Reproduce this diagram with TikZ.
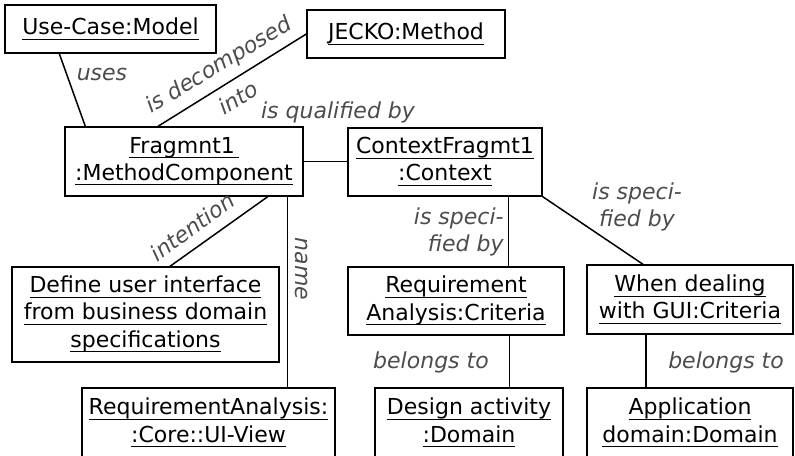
\documentclass[tikz,border=0pt]{standalone}
\usepackage{fontspec}
\setmainfont{DejaVu Sans}
\usetikzlibrary{positioning,calc}
\newcommand{\ulin}[1]{\underline{\raisebox{0pt}[\height][0.9pt]{#1}}}
\tikzset{
  obj/.style={draw,line width=0.7pt,inner sep=0pt,align=center,font=\fontsize{11}{13.6}\selectfont},
  rol/.style={font=\fontsize{11}{13.6}\selectfont\itshape,text=black!70,inner sep=0pt},
  vazba/.style={line width=0.75pt},
}
\begin{document}
\begin{tikzpicture}[x=0.5pt,y=-0.5pt]
  \useasboundingbox (0,0) rectangle (795,455);
  \clip (0,0) rectangle (795,455);
  \node[obj,minimum width=105.5pt,minimum height=24pt] (ucm) at (110.5,29) {\ulin{Use-Case:Model}};
  \node[obj,minimum width=99pt,minimum height=24pt] (jm) at (406,34) {\ulin{JECKO:Method}};
  \node[obj,minimum width=119pt,minimum height=34.5pt] (frag) at (184,161.5) {\ulin{Fragmnt1\,}\\\ulin{:MethodComponent}};
  \node[obj,minimum width=97pt,minimum height=34pt] (ctx) at (445,162) {\ulin{ContextFragmt1}\\\ulin{:Context}};
  \node[obj,minimum width=133.5pt,minimum height=47.5pt] (def) at (145.5,314.5) {\ulin{Define user interface}\\\ulin{from business domain}\\\ulin{specifications}};
  \node[obj,minimum width=108pt,minimum height=34pt] (rc) at (456,301) {\ulin{Requirement}\\\ulin{Analysis:Criteria}};
  \node[obj,minimum width=103pt,minimum height=34.5pt] (gui) at (690,299.5) {\ulin{When dealing}\\\ulin{with GUI:Criteria}};
  \node[obj,minimum width=126.5pt,minimum height=35pt] (uiv) at (208.5,423) {\ulin{RequirementAnalysis:}\\\ulin{:Core::UI-View}};
  \node[obj,minimum width=94pt,minimum height=35pt] (da) at (469,423) {\ulin{Design activity}\\\ulin{:Domain}};
  \node[obj,minimum width=103pt,minimum height=35pt] (ad) at (690,423) {\ulin{Application}\\\ulin{domain:Domain}};
  \draw[vazba] ($(ucm.south west)+(55,0)$) -- ($(frag.north west)+(21,0)$);
  \draw[vazba] (jm.west) -- ($(frag.north)+(-26,0)$);
  \draw[vazba] (frag.east) -- (frag.east -| ctx.west);
  \draw[vazba] ($(frag.south east)+(-36,0)$) -- ($(def.north)+(24.5,0)$);
  \draw[vazba] ($(frag.south east)+(-16,0)$) coordinate (n1) -- (n1 |- uiv.north);
  \draw[vazba] ($(ctx.south east)+(-34,0)$) coordinate (n2) -- (n2 |- rc.north);
  \draw[vazba] (ctx.south east) -- ($(gui.north)+(-47,0)$);
  \draw[vazba] ($(rc.south east)+(-55,0)$) coordinate (n3) -- (n3 |- da.north);
  \draw[vazba] ($(gui.south)+(-44,0)$) coordinate (n4) -- (n4 |- ad.north);
  \node[rol] (uses) at (102,74) {uses};
  \node[rol,rotate=31,align=center] (decomp) at (228,81) {is decomposed\\[6pt]into};
  \node[rol] (qual) at (338,112) {is qualified by};
  \node[rol,rotate=36] (intent) at (192,227) {intention};
  \node[rol,rotate=-90] (name) at (301,269) {name};
  \node[rol,align=right,anchor=east] (spec1) at (504,232) {is speci-\\fied by};
  \node[rol,align=center] (spec2) at (637,207) {is speci-\\fied by};
  \node[rol] (bel1) at (431,362) {belongs to};
  \node[rol] (bel2) at (726,362) {belongs to};
\end{tikzpicture}
\end{document}
